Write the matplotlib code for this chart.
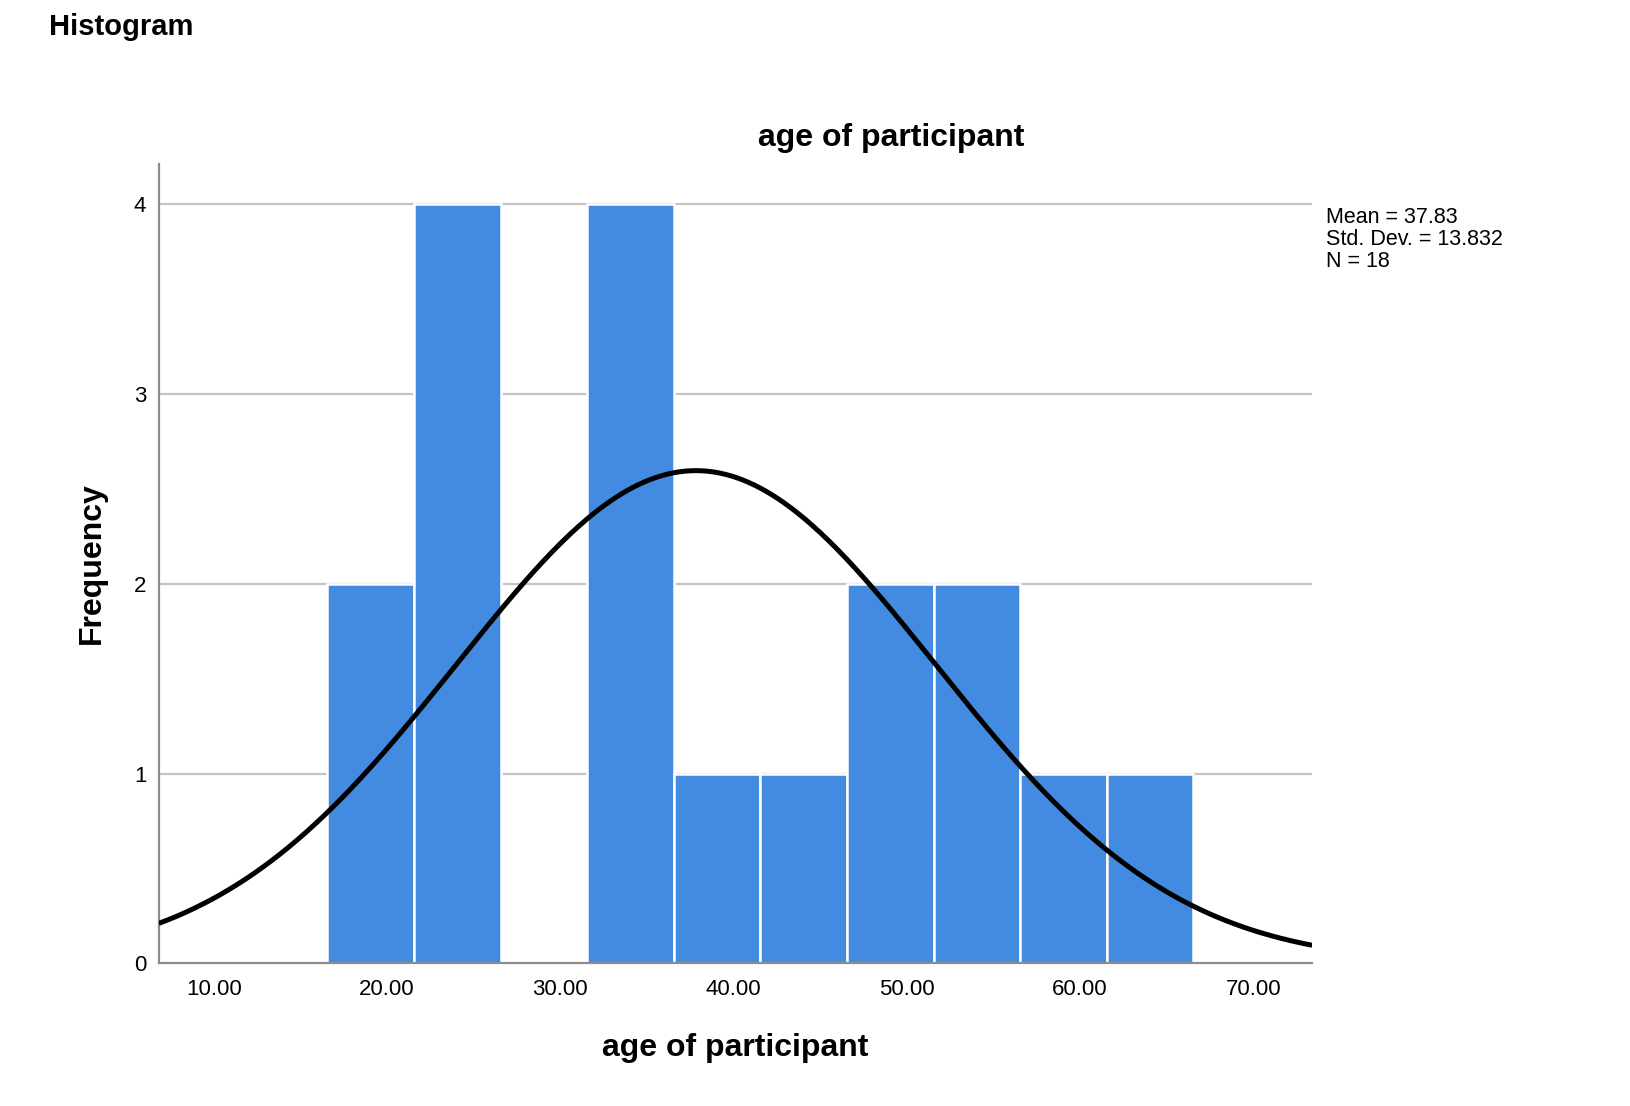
import matplotlib.pyplot as plt
import numpy as np

plt.rcParams['font.family'] = ['Liberation Sans', 'DejaVu Sans']

# histogram of age (SPSS output)
bin_edges = [16.55, 21.55, 26.55, 31.55, 36.55, 41.55, 46.55, 51.55, 56.55, 61.55, 66.55]
counts = [2, 4, 0, 4, 1, 1, 2, 2, 1, 1]
mean_age = 37.83
std_age = 13.832
n_obs = 18
x_ticks = [10, 20, 30, 40, 50, 60, 70]
y_ticks = [0, 1, 2, 3, 4]

fig = plt.figure(figsize=(16.3, 11.06), dpi=100)
ax = fig.add_axes([0.0974, 0.129, 0.805 - 0.0974, 0.852 - 0.129])

widths = np.diff(bin_edges)
ax.bar(bin_edges[:-1], counts, width=widths, align='edge', color='#428be0',
       edgecolor='white', linewidth=1.8, zorder=2)

# fitted normal curve
bw = widths[0]
xs = np.linspace(6.82, 73.4, 400)
ys = n_obs * bw * np.exp(-0.5 * ((xs - mean_age) / std_age) ** 2) / (std_age * np.sqrt(2 * np.pi))
ax.plot(xs, ys, color='black', lw=3.6, zorder=3, solid_capstyle='butt')

ax.set_xlim(6.82, 73.4)
ax.set_ylim(0, 4.213)
ax.set_xticks(x_ticks)
ax.set_xticklabels([f"{t:.2f}" for t in x_ticks], fontsize=16)
ax.set_yticks(y_ticks)
ax.set_yticklabels([str(t) for t in y_ticks], fontsize=16)
ax.tick_params(axis='x', length=0, pad=11)
ax.tick_params(axis='y', length=0, pad=9)
for y in y_ticks[1:]:
    ax.axhline(y, color='#c4c4c4', lw=1.6, zorder=1)

for s in ['top', 'right']:
    ax.spines[s].set_visible(False)
for s in ['left', 'bottom']:
    ax.spines[s].set_color('#8c8c8c')
    ax.spines[s].set_linewidth(1.6)

ax.set_xlabel('age of participant', fontsize=23, fontweight='bold', labelpad=24)
ax.set_ylabel('Frequency', fontsize=23, fontweight='bold', labelpad=19)

fig.text(0.030, 0.976, 'Histogram', fontsize=21, fontweight='bold', va='center')
fig.text(0.5465, 0.875, 'age of participant', fontsize=23, fontweight='bold',
         ha='center', va='center')

stats = [f"Mean = {mean_age:.2f}", f"Std. Dev. = {std_age:.3f}", f"N = {n_obs}"]
for i, line in enumerate(stats):
    fig.text(0.8135, 0.803 - i * 0.0195, line, fontsize=15.5, va='center')

plt.savefig('out.png', dpi=100)
plt.close()
